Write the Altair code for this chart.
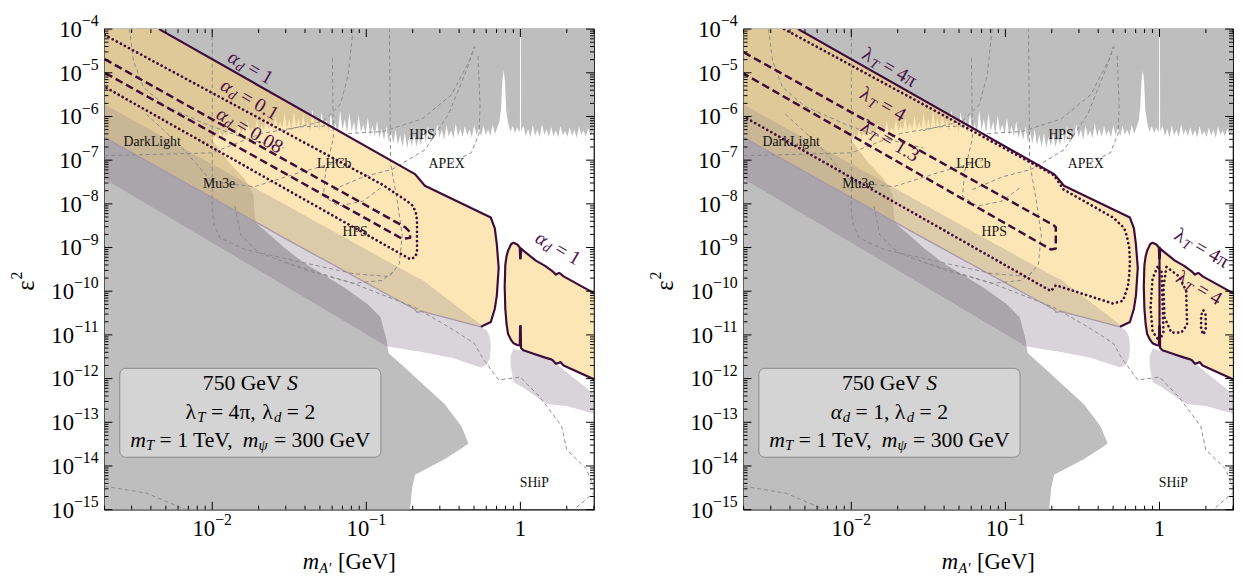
import numpy as np
import pandas as pd
import altair as alt

FONT = "Liberation Serif"
PW, PH = 497, 488
PURPLE = "#3d0c3d"
LBLC = "#4a1048"
DASHC = "#8a8a8a"

# ---------------- data: log10(m_A' / GeV) and log10(eps^2) ----------------
TOP_GRAY = [
    (-2.05, -6.55), (-2.0, -6.55), (-1.98, -6.42), (-1.965, -6.50), (-1.95, -6.30), (-1.935, -6.47), (-1.92, -6.38),
    (-1.905, -6.45), (-1.89, -6.22), (-1.875, -6.41), (-1.86, -6.33), (-1.845, -6.44), (-1.83, -6.15),
    (-1.815, -6.40), (-1.80, -6.28), (-1.785, -6.37), (-1.77, -6.10), (-1.755, -6.36), (-1.74, -6.25),
    (-1.725, -6.34), (-1.71, -6.06), (-1.695, -6.33), (-1.68, -6.20), (-1.665, -6.31), (-1.65, -6.02),
    (-1.635, -6.30), (-1.62, -6.14), (-1.605, -6.29), (-1.59, -5.98), (-1.575, -6.28), (-1.56, -6.12),
    (-1.545, -6.27), (-1.53, -5.92), (-1.515, -6.27), (-1.50, -6.05), (-1.485, -6.30), (-1.47, -5.88),
    (-1.455, -6.26), (-1.44, -6.02), (-1.425, -6.31), (-1.41, -5.95), (-1.395, -6.24), (-1.38, -6.10),
    (-1.365, -6.33), (-1.35, -5.84), (-1.335, -6.28), (-1.32, -6.00), (-1.305, -6.35), (-1.29, -5.90),
    (-1.275, -6.30), (-1.26, -6.08), (-1.245, -6.38), (-1.23, -5.93), (-1.215, -6.36), (-1.20, -6.15),
    (-1.185, -6.40), (-1.17, -5.86), (-1.155, -6.32), (-1.14, -6.05), (-1.125, -6.37), (-1.11, -5.92),
    (-1.095, -6.34), (-1.08, -6.12), (-1.065, -6.41), (-1.05, -5.97), (-1.035, -6.36), (-1.02, -6.18),
    (-1.005, -6.40), (-0.99, -6.02), (-0.975, -6.44), (-0.96, -6.20), (-0.945, -6.47), (-0.93, -6.10),
    (-0.915, -6.50), (-0.90, -6.28), (-0.885, -6.55), (-0.87, -6.22), (-0.855, -6.58), (-0.84, -6.35),
    (-0.825, -6.62), (-0.81, -6.30), (-0.795, -6.66), (-0.78, -6.42), (-0.765, -6.70), (-0.75, -6.38),
    (-0.735, -6.72), (-0.72, -6.45), (-0.705, -6.68), (-0.69, -6.40), (-0.675, -6.70), (-0.66, -6.48),
    (-0.645, -6.65), (-0.63, -6.30), (-0.615, -6.60), (-0.60, -6.22), (-0.585, -6.52), (-0.57, -6.35),
    (-0.555, -6.50), (-0.54, -6.18), (-0.525, -6.48), (-0.51, -6.30), (-0.495, -6.53), (-0.48, -6.20),
    (-0.465, -6.46), (-0.45, -6.32), (-0.435, -6.50), (-0.42, -6.16), (-0.405, -6.45), (-0.39, -6.28),
    (-0.375, -6.47), (-0.36, -6.22), (-0.345, -6.44), (-0.33, -6.30), (-0.315, -6.48), (-0.30, -6.20),
    (-0.285, -6.43), (-0.27, -6.27), (-0.255, -6.45), (-0.24, -6.21), (-0.225, -6.42), (-0.21, -6.30),
    (-0.195, -6.44), (-0.18, -6.19), (-0.165, -6.40), (-0.15, -6.25), (-0.135, -6.10), (-0.125, -5.80),
    (-0.12, -5.40), (-0.115, -5.10), (-0.108, -4.95), (-0.10, -5.20), (-0.095, -5.60), (-0.092, -5.85),
    (-0.08, -6.15), (-0.065, -6.35),
    (-0.05, -6.22), (-0.035, -6.38), (-0.02, -6.25), (-0.008, -6.36), (-0.003, -6.30), (-0.002, -4.0),
    (0.003, -4.0), (0.004, -6.33), (0.02, -6.22), (0.035, -6.45), (0.05, -6.28), (0.065, -6.48), (0.08, -6.20),
    (0.095, -6.44), (0.11, -6.30), (0.125, -6.47), (0.14, -6.18), (0.155, -6.42), (0.17, -6.29), (0.185, -6.46),
    (0.20, -6.24), (0.215, -6.45), (0.23, -6.31), (0.245, -6.48), (0.26, -6.22), (0.275, -6.43), (0.29, -6.33),
    (0.305, -6.47), (0.32, -6.25), (0.335, -6.44), (0.35, -6.30), (0.365, -6.49), (0.38, -6.23), (0.395, -6.42),
    (0.41, -6.32), (0.425, -6.46), (0.44, -6.27), (0.455, -6.44), (0.47, -6.35), (0.48, -6.42)]
TOP_GRAY_LX = [p[0] for p in TOP_GRAY]
TOP_GRAY_LY = [p[1] for p in TOP_GRAY]

BOT_GRAY_LX = [-2.699, -2.013, -2.006, -2.0, -1.891, -1.789, -1.732, -1.725, -1.712, -1.597, -1.534, -1.406,
               -1.150, -0.990, -0.907, -0.869, -0.856, -0.716, -0.703, -0.684, -0.492, -0.383, -0.339]
BOT_GRAY_HI = [-4.0, -4.0, -6.544, -6.544, -7.053, -7.429, -7.783, -8.27, -8.45, -8.80, -9.00, -9.35,
               -9.90, -10.30, -10.60, -11.102, -11.412, -11.854, -11.898, -11.965, -12.584, -13.093, -13.47]
BOT_GRAY_LO = [-15.0, -15.0, -15.0, -15.0, -15.0, -15.0, -15.0, -15.0, -15.0, -15.0, -15.0, -15.0,
               -15.0, -15.0, -15.0, -15.0, -15.0, -15.0, -14.509, -14.199, -13.845, -13.60, -13.49]

LAV1_LX = [-2.699, -1.534, -0.869, -0.684, -0.671, -0.639, -0.447, -0.256, -0.217, -0.198, -0.192]
LAV1_HI = [-6.478, -8.779, -10.062, -10.416, -10.482, -10.46, -10.637, -10.814, -10.903, -11.035, -11.25]
LAV1_LO = [-7.429, -9.863, -11.257, -11.367, -11.367, -11.389, -11.522, -11.743, -11.677, -11.522, -11.30]

LAV2_LX = [-0.064, -0.045, 0.019, 0.173, 0.300, 0.48]
LAV2_HI = [-11.478, -11.323, -11.367, -11.478, -11.854, -12.363]
LAV2_LO = [-11.699, -12.075, -12.208, -12.584, -12.628, -12.805]

BAND2_LX = [-2.699, -1.534, -0.684, -0.671, -0.639, -0.256]
BAND2_LO = [-6.478, -8.779, -10.416, -10.482, -10.46, -10.814]
BAND2_HI = [-5.726, -8.004, -9.664, -9.686, -9.730, -10.77]

YEL_LX = [-2.699, -2.345, -1.534, -0.684, -0.671, -0.639, -0.620, -0.256, -0.192, -0.166, -0.153, -0.141]
YEL_HI = [-4.0, -4.0, -5.62, -7.319, -7.341, -7.451, -7.584, -8.204, -8.314, -8.56, -8.93, -9.465]
YEL_LO = [-6.478, -7.186, -8.779, -10.416, -10.482, -10.46, -10.48, -10.814, -10.704, -10.40, -10.10, -9.465]

ISL_LX = [-0.102, -0.098, -0.09, -0.08, -0.06, -0.045, -0.02, -0.004, -0.002, 0.002, 0.004, 0.019, 0.10,
          0.16, 0.20, 0.21, 0.23, 0.25, 0.26, 0.28, 0.48]
ISL_HI = [-9.885, -9.40, -9.20, -9.07, -8.92, -8.89, -8.93, -9.00, -9.25, -9.25, -9.02, -9.07, -9.30,
          -9.42, -9.52, -9.55, -9.62, -9.58, -9.60, -9.66, -10.05]
ISL_LO = [-9.885, -10.40, -10.75, -10.98, -11.12, -11.19, -11.23, -11.24, -10.80, -10.80, -11.30, -11.35,
          -11.45, -11.52, -11.56, -11.58, -11.66, -11.64, -11.62, -11.70, -12.02]

# outer solid contour (alpha_d = 1 / lambda_T = 4 pi)
SOLID_LX = [-2.345, -0.684, -0.620, -0.192, -0.166, -0.153, -0.141, -0.153, -0.166, -0.192, -0.256]
SOLID_LY = [-4.0, -7.319, -7.584, -8.314, -8.56, -8.93, -9.465, -10.10, -10.40, -10.704, -10.814]

# left panel inner contours
AD01_LX = [-2.699, -0.895, -0.735, -0.696, -0.677, -0.671, -0.671, -0.684, -0.716, -2.699]
AD01_LY = [-4.133, -7.562, -7.938, -8.049, -8.226, -8.381, -9.111, -9.221, -9.265, -5.32]
AD008_LX = [-2.699, -0.748, -0.716, -0.716, -0.767, -2.699]
AD008_LY = [-4.686, -8.535, -8.646, -8.779, -8.80, -4.996]

# right panel inner contours
LT4_LX = [-2.436, -0.686, -0.622, -0.301, -0.23, -0.212, -0.197, -0.192, -0.196, -0.205, -0.237, -0.301,
          -0.673, -0.705, -2.699]
LT4_LY = [-4.0, -7.341, -7.673, -8.314, -8.55, -8.735, -9.0, -9.31, -9.6, -9.885, -10.217, -10.283,
          -9.863, -9.996, -6.0]
LT13_LX = [-2.699, -0.686, -0.673, -0.673, -0.705, -2.699]
LT13_LY = [-4.53, -8.491, -8.535, -9.022, -9.044, -5.018]
LOOPA_LX = [-0.013, -0.045, -0.058, -0.045, 0.0, 0.026, 0.019, 0.013, -0.013]
LOOPA_LY = [-9.442, -9.708, -10.372, -10.925, -11.146, -10.925, -10.15, -9.531, -9.442]
LOOPB_LX = [0.045, 0.128, 0.173, 0.179, 0.141, 0.077, 0.032, 0.026, 0.045]
LOOPB_LY = [-9.442, -9.664, -9.996, -10.77, -10.947, -10.947, -10.593, -9.9, -9.442]
PILL_LX = [0.285, 0.30, 0.30, 0.285, 0.27, 0.27, 0.285]
PILL_LY = [-10.44, -10.55, -10.88, -10.99, -10.88, -10.55, -10.44]
SPLIT_LX = [0.0, 0.0]
SPLIT_LY = [-8.98, -11.26]

# dashed sensitivity projections
DASHED = [
    ([-2.0, -2.0, -1.987, -1.949, -1.789, -1.425, -1.086, -0.850, -0.786, -0.767, -0.799, -0.843, -0.850],
     [-4.0, -8.159, -8.491, -8.779, -9.044, -9.332, -9.597, -9.664, -9.376, -8.712, -7.938, -7.053, -4.0]),
    ([-1.853, -1.815, -1.700, -1.380, -1.086, -0.895, -0.818],
     [-8.049, -8.712, -9.111, -9.531, -9.819, -9.752, -9.531]),
    ([-2.699, -2.0, -1.681, -1.425, -1.214], [-6.898, -6.832, -6.389, -6.235, -6.212]),
    ([-2.537, -2.511, -2.447, -2.300, -2.045, -1.789, -1.534], [-4.0, -4.730, -5.327, -5.770, -6.168, -6.5, -6.721]),
    ([-2.428, -2.211, -2.0, -1.725, -1.425, -1.150], [-5.947, -6.655, -7.496, -7.606, -7.274, -7.009]),
    ([-1.220, -1.214, -1.265, -1.278, -1.182, -1.022, -0.895], [-4.664, -6.5, -7.274, -7.827, -8.049, -7.938, -7.606]),
    ([-1.086, -1.118, -1.169, -1.278, -1.534], [-4.0, -5.062, -5.726, -6.102, -6.323]),
    ([-1.214, -1.022, -0.831, -0.620, -0.466, -0.339, -0.300], [-7.673, -7.385, -7.208, -6.765, -5.947, -4.841, -4.398]),
    ([-1.118, -0.895, -0.639, -0.447, -0.332, -0.294], [-6.389, -6.345, -6.058, -5.504, -4.730, -4.398]),
    ([-0.275, -0.262, -0.268, -0.319, -0.447], [-4.619, -5.726, -6.389, -6.832, -7.053]),
    ([-1.534, -1.086, -0.684, -0.467, -0.300, -0.243, -0.141, 0.0, 0.128, 0.268, 0.300, 0.428, 0.48],
     [-9.332, -9.819, -10.372, -10.814, -11.19, -11.544, -12.03, -11.965, -12.429, -13.093, -13.624, -14.066, -14.53]),
    ([0.364, 0.48], [-14.95, -14.60]),
    ([-2.699, -2.428, -2.173], [-14.465, -14.62, -14.996]),
]

BG_LABELS = [("DarkLight", -2.39, -6.588), ("Mu3e", -1.955, -7.54), ("LHCb", -1.208, -7.097),
             ("HPS", -1.073, -8.646), ("HPS", -0.639, -6.434), ("APEX", -0.479, -7.097), ("SHiP", 0.09, -14.4)]

BOX_LX = [-2.60, -0.905]
BOX_LY = [-13.8, -11.765]
BOX_LINES_LY = [-12.097, -12.761, -13.403]

X_MAJOR = [0.01, 0.1, 1.0]
X_MAJOR_EXP = ["−2", "−1", ""]
Y_EXP = list(range(-15, -3))

# ---------------- helpers ----------------
XS = alt.Scale(type="log", domain=[0.002, 3])
YS = alt.Scale(type="log", domain=[1e-15, 1e-4])


def xe(f="m"):
    return alt.X(f"{f}:Q", scale=XS, axis=None)


def ye(f="e"):
    return alt.Y(f"{f}:Q", scale=YS, axis=None)


def p10(a):
    return 10.0 ** np.array(a, dtype=float)


def band(lx, lo, hi, color, opacity, interp="linear"):
    df = pd.DataFrame({"m": p10(lx), "lo": p10(lo), "hi": p10(hi)})
    return alt.Chart(df).mark_area(color=color, opacity=opacity, clip=True, interpolate=interp).encode(
        x=xe(), y=alt.Y("lo:Q", scale=YS, axis=None), y2="hi:Q")


def path(lx, ly, color, width, dash=None, cap="butt"):
    df = pd.DataFrame({"m": p10(lx), "e": p10(ly), "o": np.arange(len(lx))})
    kw = dict(color=color, strokeWidth=width, clip=True, strokeCap=cap, strokeJoin="round")
    if dash:
        kw["strokeDash"] = dash
    return alt.Chart(df).mark_line(**kw).encode(x=xe(), y=ye(), order="o:Q")


CW = {" ": 0.25, "=": 0.564, ",": 0.25, ".": 0.25, "G": 0.722, "e": 0.444, "V": 0.722, "T": 0.611,
      "S": 0.556, "λ": 0.55, "α": 0.55, "π": 0.55, "m": 0.778, "ψ": 0.69, "d": 0.5, "A": 0.722, "′": 0.28,
      "[": 0.333, "]": 0.333, "−": 0.564, "ε": 0.45}
CWI = {"T": 0.556, "S": 0.5, "m": 0.722, "A": 0.611, "d": 0.5}


def tw(text, size, italic):
    w = 0.0
    for c in text:
        if italic and c in CWI:
            w += CWI[c]
        else:
            w += CW.get(c, 0.5)
    return w * size


def rich(segs, xpos, ypos, angle=0, color="black", data=True, baseline="middle"):
    total = sum(tw(t, s, i) for t, s, i, _ in segs)
    pos = -total / 2.0
    if data:
        df = pd.DataFrame({"m": [10.0 ** xpos], "e": [10.0 ** ypos]})
        enc = dict(x=xe(), y=ye())
    else:
        df = pd.DataFrame({"a": [0]})
        enc = dict(x=alt.value(xpos), y=alt.value(ypos))
    out = []
    for t, s, i, sh in segs:
        lead = (len(t) - len(t.lstrip(" "))) * CW[" "] * s
        mk = dict(text=t.strip(" "), font=FONT, fontSize=s, fontStyle="italic" if i else "normal", align="left",
                  baseline=baseline, dx=pos + lead, dy=sh, color=color)
        if angle:
            mk["angle"] = angle
        out.append(alt.Chart(df).mark_text(**mk).encode(**enc))
        pos += tw(t, s, i)
    return out


def sub_label(sym, sym_it, sub, val, size=20):
    return [(sym, size, sym_it, 0), (sub, 14, True, 5), (" = " + val, size, False, 0)]


def ticks_layers():
    x_minor = [k * 10.0 ** e for e in (-3, -2, -1, 0) for k in range(2, 10) if 0.002 <= k * 10.0 ** e <= 3.0]
    y_major = [10.0 ** e for e in Y_EXP]
    y_minor = [k * 10.0 ** e for e in range(-15, -4) for k in range(2, 10)]
    L = []
    for vals, ln in ((X_MAJOR, 8), (x_minor, 4)):
        df = pd.DataFrame({"v": vals})
        for y0, y1 in ((PH, PH - ln), (0, ln)):
            L.append(alt.Chart(df).mark_rule(color="black", strokeWidth=1).encode(
                x=xe("v"), y=alt.value(y0), y2=alt.value(y1)))
    for vals, ln in ((y_major, 8), (y_minor, 4)):
        df = pd.DataFrame({"v": vals})
        for x0, x1 in ((0, ln), (PW, PW - ln)):
            L.append(alt.Chart(df).mark_rule(color="black", strokeWidth=1).encode(
                y=ye("v"), x=alt.value(x0), x2=alt.value(x1)))
    return L


def axis_labels():
    L = []
    one = [e for e in Y_EXP if e > -10]
    two = [e for e in Y_EXP if e <= -10]
    for group in (one, two):
        df = pd.DataFrame({"v": [10.0 ** e for e in group], "t": ["−" + str(-e) for e in group]})
        ew = tw(df["t"].iloc[0], 16, False)
        L.append(alt.Chart(df).mark_text(text="10", font=FONT, fontSize=23, align="right", baseline="middle",
                                         dx=-(6 + ew), dy=1, color="black").encode(x=alt.value(0), y=ye("v")))
        L.append(alt.Chart(df).mark_text(font=FONT, fontSize=16, align="right", baseline="middle",
                                         dx=-6, dy=-8, color="black").encode(x=alt.value(0), y=ye("v"), text="t:N"))
    dfx = pd.DataFrame({"v": X_MAJOR[:2], "t": X_MAJOR_EXP[:2]})
    L.append(alt.Chart(dfx).mark_text(text="10", font=FONT, fontSize=23, align="left", baseline="alphabetic",
                                      dx=-20, color="black").encode(x=xe("v"), y=alt.value(PH + 27)))
    L.append(alt.Chart(dfx).mark_text(font=FONT, fontSize=16, align="left", baseline="alphabetic",
                                      dx=3, dy=-11, color="black").encode(x=xe("v"), y=alt.value(PH + 27), text="t:N"))
    dfo = pd.DataFrame({"v": X_MAJOR[2:]})
    L.append(alt.Chart(dfo).mark_text(text="1", font=FONT, fontSize=23, align="center", baseline="alphabetic",
                                      color="black").encode(x=xe("v"), y=alt.value(PH + 27)))
    L += rich([("m", 23, True, 0), ("A′", 15, True, 6), (" [GeV]", 23, False, 0)], PW / 2, PH + 53, data=False)
    L += rich([("ε", 25, False, 0), ("2", 16, False, -9)], -80, PH / 2 + 12, angle=270, data=False)
    return L


def panel(right):
    L = []
    L.append(band(BOT_GRAY_LX, BOT_GRAY_LO, BOT_GRAY_HI, "#bebebe", 1.0))
    L.append(band(TOP_GRAY_LX, TOP_GRAY_LY, [-4.0] * len(TOP_GRAY_LX), "#bebebe", 1.0))
    L.append(band(LAV1_LX, LAV1_LO, LAV1_HI, "#776577", 0.28))
    L.append(band(LAV2_LX, LAV2_LO, LAV2_HI, "#776577", 0.28))
    L.append(band(YEL_LX, YEL_LO, YEL_HI, "#fbd278", 0.55))
    L.append(band(ISL_LX, ISL_LO, ISL_HI, "#fbd278", 0.55))
    L.append(band(BAND2_LX, BAND2_LO, BAND2_HI, "#968c8c", 0.3))
    L.append(path(LAV1_LX[:-3], LAV1_HI[:-3], "#a898a8", 1.3))
    for lx, ly in DASHED:
        L.append(path(lx, ly, DASHC, 1.0, dash=[4, 3]))
    for t, lx, ly in BG_LABELS:
        df = pd.DataFrame({"m": [10.0 ** lx], "e": [10.0 ** ly]})
        L.append(alt.Chart(df).mark_text(text=t, font=FONT, fontSize=14, color="#111").encode(x=xe(), y=ye()))
    # contours
    L.append(path(SOLID_LX, SOLID_LY, PURPLE, 2.2))
    isl_lx = ISL_LX[::-1] + ISL_LX[1:]
    isl_ly = ISL_HI[::-1] + ISL_LO[1:]
    L.append(path(isl_lx, isl_ly, PURPLE, 2.2))
    dot = dict(dash=[0.1, 4.6], cap="round")
    if not right:
        L.append(path(AD01_LX, AD01_LY, PURPLE, 2.7, **dot))
        L.append(path(AD008_LX, AD008_LY, PURPLE, 2.5, dash=[8, 4]))
        L += rich(sub_label("α", True, "d", "1"), -1.751, -4.885, angle=30, color=LBLC)
        L += rich(sub_label("α", True, "d", "0.1"), -1.757, -5.615, angle=30, color=LBLC)
        L += rich(sub_label("α", True, "d", "0.08"), -1.757, -6.323, angle=30, color=LBLC)
        L += rich(sub_label("α", True, "d", "1"), 0.243, -9.022, angle=30, color=LBLC)
    else:
        L.append(path(SPLIT_LX, SPLIT_LY, PURPLE, 2.2))
        L.append(path(LT4_LX, LT4_LY, PURPLE, 2.7, **dot))
        L.append(path(LT13_LX, LT13_LY, PURPLE, 2.5, dash=[8, 4]))
        L.append(path(LOOPA_LX, LOOPA_LY, PURPLE, 2.7, **dot))
        L.append(path(LOOPB_LX, LOOPB_LY, PURPLE, 2.7, **dot))
        L.append(path(PILL_LX, PILL_LY, PURPLE, 2.7, **dot))
        L += rich(sub_label("λ", False, "T", "4π"), -1.75, -4.885, angle=30, color=LBLC)
        L += rich(sub_label("λ", False, "T", "4"), -1.795, -5.726, angle=30, color=LBLC)
        L += rich(sub_label("λ", False, "T", "1.3"), -1.75, -6.566, angle=30, color=LBLC)
        L += rich(sub_label("λ", False, "T", "4π"), 0.276, -9.022, angle=30, color=LBLC)
        L += rich(sub_label("λ", False, "T", "4"), 0.256, -9.93, angle=30, color=LBLC)
    # info box
    dfb = pd.DataFrame({"x1": [10.0 ** BOX_LX[0]], "x2": [10.0 ** BOX_LX[1]],
                        "y1": [10.0 ** BOX_LY[0]], "y2": [10.0 ** BOX_LY[1]]})
    L.append(alt.Chart(dfb).mark_rect(fill="#d4d4d4", stroke="#8a8a8a", strokeWidth=1, cornerRadius=6).encode(
        x=xe("x1"), x2="x2:Q", y=ye("y1"), y2="y2:Q"))
    cx = (BOX_LX[0] + BOX_LX[1]) / 2.0
    L += rich([("750 GeV ", 22, False, 0), ("S", 22, True, 0)], cx, BOX_LINES_LY[0])
    if not right:
        line2 = [("λ", 22, False, 0), ("T", 15, True, 5), (" = 4π, ", 22, False, 0),
                 ("λ", 22, False, 0), ("d", 15, True, 5), (" = 2", 22, False, 0)]
    else:
        line2 = [("α", 22, True, 0), ("d", 15, True, 5), (" = 1, ", 22, False, 0),
                 ("λ", 22, False, 0), ("d", 15, True, 5), (" = 2", 22, False, 0)]
    L += rich(line2, cx, BOX_LINES_LY[1])
    line3 = [("m", 22, True, 0), ("T", 15, True, 5), (" = 1 TeV, ", 22, False, 0),
             ("m", 22, True, 0), ("ψ", 15, True, 5), (" = 300 GeV", 22, False, 0)]
    L += rich(line3, cx, BOX_LINES_LY[2])
    L += ticks_layers()
    L += axis_labels()
    return alt.layer(*L).properties(width=PW, height=PH)


chart = alt.hconcat(panel(False), panel(True), spacing=52).properties(
    padding={"left": 0, "right": 0, "top": 0, "bottom": 0}
).configure_view(stroke="black", strokeWidth=1.2)

chart.save("out.html", embed_options={"renderer": "svg", "actions": False})
